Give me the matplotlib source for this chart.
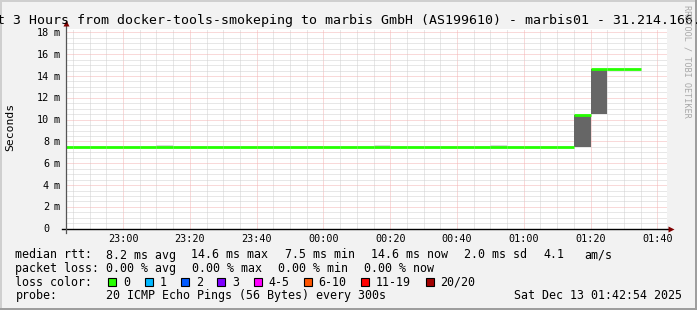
import matplotlib
matplotlib.use("Agg")
import matplotlib.pyplot as plt
import matplotlib.dates as mdates
from matplotlib.ticker import MultipleLocator
from matplotlib.patches import Rectangle
from matplotlib import transforms
import pandas as pd

W, H = 697, 310
MONO = "DejaVu Sans Mono"

# 5 minute rrd steps, 22:40 .. 01:30 (last step ends 01:35)
step_start = pd.date_range("2025-12-12 22:40", "2025-12-13 01:30", freq="5min")
step = pd.Timedelta(minutes=5)

median_ms = [7.5, 7.5, 7.5, 7.5, 7.5, 7.5, 7.5, 7.5, 7.5, 7.5,
             7.5, 7.5, 7.5, 7.5, 7.5, 7.5, 7.5, 7.5, 7.5, 7.5,
             7.5, 7.5, 7.5, 7.5, 7.5, 7.45, 7.5, 7.5, 7.5, 7.5,
             7.5, 10.45, 14.6, 14.6, 14.6]
smoke_lo = [7.5, 7.5, 7.5, 7.5, 7.5, 7.5, 7.5, 7.5, 7.5, 7.5,
            7.5, 7.5, 7.5, 7.5, 7.5, 7.5, 7.5, 7.5, 7.5, 7.5,
            7.5, 7.5, 7.5, 7.5, 7.5, 7.45, 7.5, 7.5, 7.5, 7.5,
            7.5, 7.47, 10.47, 14.6, 14.6]
smoke_hi = [7.5, 7.5, 7.5, 7.5, 7.5, 7.5, 7.68, 7.5, 7.5, 7.5,
            7.5, 7.5, 7.5, 7.5, 7.5, 7.62, 7.5, 7.5, 7.5, 7.68,
            7.5, 7.5, 7.5, 7.5, 7.5, 7.45, 7.68, 7.5, 7.5, 7.5,
            7.5, 10.45, 14.6, 14.6, 14.6]

y_ticks = [0, 2, 4, 6, 8, 10, 12, 14, 16, 18]

title = ("Last 3 Hours from docker-tools-smokeping to marbis GmbH (AS199610)"
         " - marbis01 - 31.214.166.")
rtt_items = ["median rtt:", "8.2 ms avg", "14.6 ms max", "7.5 ms min",
             "14.6 ms now", "2.0 ms sd", "4.1", "am/s"]
loss_items = ["packet loss:", "0.00 % avg", "0.00 % max", "0.00 % min", "0.00 % now"]
probe_items = ["probe:", "20 ICMP Echo Pings (56 Bytes) every 300s"]
loss_labels = ["0", "1", "2", "3", "4-5", "6-10", "11-19", "20/20"]
loss_colors = ["#26ff00", "#00b8ff", "#0059ff", "#7e00ff",
               "#ff00ff", "#ff5500", "#ff0000", "#a10000"]
stamp = "Sat Dec 13 01:42:54 2025"

# legend column x (pixels)
rtt_x = [15.4, 106.3, 191.5, 285.0, 371.0, 464.0, 543.0, 584.7]
loss_x = [15.4, 106.3, 192.3, 278.3, 364.0]
probe_x = [15.4, 106.3]

fig = plt.figure(figsize=(W / 100, H / 100), dpi=100, facecolor="#f2f2f2")
ax = fig.add_axes([66 / W, 1 - 228.7 / H, 601 / W, 200 / H])
ax.set_facecolor("white")

# smoke
smoke_col = ["#666666" if hi - lo > 0.5 else "#dadada" for lo, hi in zip(smoke_lo, smoke_hi)]
ax.bar(step_start, [hi - lo for lo, hi in zip(smoke_lo, smoke_hi)], bottom=smoke_lo,
       width=step, align="edge", color=smoke_col, linewidth=0, zorder=2)
# median
ax.hlines(median_ms, step_start, step_start + step, color=loss_colors[0], lw=2.0, zorder=3)

ax.set_xlim(pd.Timestamp("2025-12-12 22:42:54"), pd.Timestamp("2025-12-13 01:42:54"))
ax.set_ylim(0, 200 / 10.91)
ax.xaxis.set_major_locator(mdates.MinuteLocator(byminute=[0, 20, 40]))
ax.xaxis.set_minor_locator(mdates.MinuteLocator(byminute=range(0, 60, 5)))
ax.xaxis.set_major_formatter(mdates.DateFormatter("%H:%M"))
ax.yaxis.set_major_locator(MultipleLocator(2))
ax.yaxis.set_minor_locator(MultipleLocator(0.5))
ax.grid(which="minor", color="#d0d0d0", ls=(0, (1, 1)), lw=0.72, zorder=0)
ax.grid(which="major", color="#f4b4b4", ls=(0, (1, 1)), lw=0.72, zorder=0)
ax.set_axisbelow(True)
ax.tick_params(which="both", length=0)
ax.tick_params(axis="x", pad=4, labelsize=7.3)
ax.set_yticklabels([])
for lab in ax.get_xticklabels():
    lab.set_family(MONO)
for s in ax.spines.values():
    s.set_visible(False)

# y labels: number right aligned, unit after it
ytr = transforms.offset_copy(ax.get_yaxis_transform(), fig=fig, x=0, y=-3.6, units="dots")
for v in y_ticks:
    ax.text(-17 / 601, v, str(v), transform=ytr, ha="right", va="baseline",
            family=MONO, size=7.3)
    if v:
        ax.text(-12.6 / 601, v, "m", transform=ytr, ha="left", va="baseline",
                family=MONO, size=7.3)

# axes with arrows
ax.plot([-4 / 601, 1 + 2 / 601], [0, 0], transform=ax.transAxes, clip_on=False,
        color="black", lw=1.0, zorder=5)
ax.plot([0, 0], [-4 / 200, 1 + 4 / 200], transform=ax.transAxes, clip_on=False,
        color="#555555", lw=0.9, zorder=5)
ax.plot(1 + 4 / 601, 0, marker=">", ms=4.5, color="#7f0000", mec="none",
        transform=ax.transAxes, clip_on=False, zorder=6)
ax.plot(0, 1 + 6 / 200, marker="^", ms=4.5, color="#7f0000", mec="none",
        transform=ax.transAxes, clip_on=False, zorder=6)

# texts
fig.text(-26.7 / W, 1 - 24 / H, title, family=MONO, size=9.5, va="baseline", ha="left")
fig.text(687.5 / W, 1 - 5 / H, "RRDTOOL / TOBI OETIKER", rotation=270, family=MONO,
         size=6.1, color="#a8a8a8", ha="center", va="top")
fig.text(10.5 / W, 1 - 127 / H, "Seconds", rotation=90, family=MONO, size=8.2,
         ha="center", va="center")

row_base = [258.5, 272, 285.5, 299]
for items, xs, yb in [(rtt_items, rtt_x, row_base[0]), (loss_items, loss_x, row_base[1]),
                      (probe_items, probe_x, row_base[3])]:
    for txt, xp in zip(items, xs):
        fig.text(xp / W, 1 - yb / H, txt, family=MONO, size=8.4, va="baseline", ha="left")
fig.text(15.4 / W, 1 - row_base[2] / H, "loss color:", family=MONO, size=8.4,
         va="baseline", ha="left")
fig.text(681.5 / W, 1 - row_base[3] / H, stamp, family=MONO, size=8.4,
         va="baseline", ha="right")

x = 108.3
for lab, col in zip(loss_labels, loss_colors):
    fig.add_artist(Rectangle((x / W, 1 - 285.7 / H), 8 / W, 8 / H, transform=fig.transFigure,
                             facecolor=col, edgecolor="black", lw=0.8))
    fig.text((x + 14.8) / W, 1 - row_base[2] / H, lab, family=MONO, size=8.4,
             va="baseline", ha="left")
    x += 14.8 + len(lab) * 7.02 + 14.5

# 3d frame
fig.add_artist(Rectangle((0, 0), 1, 2 / H, transform=fig.transFigure, color="#9e9e9e", lw=0))
fig.add_artist(Rectangle((1 - 2 / W, 0), 2 / W, 1, transform=fig.transFigure, color="#9e9e9e", lw=0))
fig.add_artist(Rectangle((0, 1 - 2 / H), 1 - 2 / W, 2 / H, transform=fig.transFigure, color="#cfcfcf", lw=0))
fig.add_artist(Rectangle((0, 2 / H), 2 / W, 1 - 4 / H, transform=fig.transFigure, color="#cfcfcf", lw=0))

fig.savefig("out.png", dpi=100, facecolor=fig.get_facecolor())
